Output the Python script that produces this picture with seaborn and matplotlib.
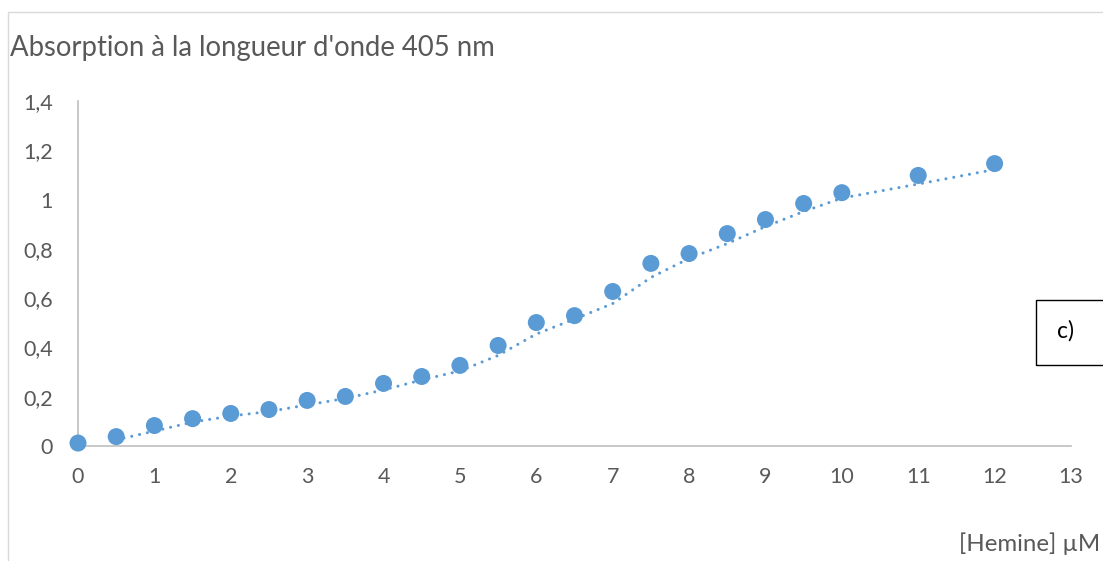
import numpy as np
import pandas as pd
import matplotlib
matplotlib.use('Agg')
import matplotlib.pyplot as plt
from matplotlib.ticker import FuncFormatter, MultipleLocator
from matplotlib.lines import Line2D
from matplotlib.patches import Rectangle
import seaborn as sns

# Données
hemine = [0, 0.5, 1, 1.5, 2, 2.5, 3, 3.5, 4, 4.5, 5, 5.5, 6, 6.5, 7, 7.5,
          8, 8.5, 9, 9.5, 10, 11, 12]
absorption = [0.012, 0.038, 0.083, 0.111, 0.132, 0.148, 0.185, 0.201, 0.254,
              0.282, 0.327, 0.408, 0.501, 0.529, 0.627, 0.741, 0.781, 0.862,
              0.919, 0.984, 1.028, 1.098, 1.146]

df = pd.DataFrame({'hemine': hemine, 'absorption': absorption})
# Courbe de tendance : moyenne mobile sur 2 périodes (style Excel)
df['moy'] = df['absorption'].rolling(2).mean()

sns.set_style('white')
plt.rcParams['font.family'] = ['Lato', 'DejaVu Sans']

bleu = '#5B9BD5'
gris_txt = '#595959'
gris_axe = '#BFBFBF'

fig = plt.figure(figsize=(11.03, 5.61), dpi=100)
ax = fig.add_axes([78 / 1103, 1 - 446 / 561, (1071 - 78) / 1103, (446 - 101) / 561])

sns.lineplot(data=df.dropna(), x='hemine', y='moy', ax=ax, color=bleu,
             linewidth=2.2, linestyle=(0, (0.01, 2.6)), dash_capstyle='round')
sns.scatterplot(data=df, x='hemine', y='absorption', ax=ax, color=bleu,
                s=150, edgecolor='none', zorder=3, clip_on=False)

ax.set_xlim(0, 13)
ax.set_ylim(0, 1.4)
ax.xaxis.set_major_locator(MultipleLocator(1))
ax.yaxis.set_major_locator(MultipleLocator(0.2))
ax.yaxis.set_major_formatter(FuncFormatter(lambda v, p: f'{v:g}'.replace('.', ',')))
ax.tick_params(axis='both', length=0, labelsize=15.5, colors=gris_txt)
ax.tick_params(axis='x', pad=15)
ax.tick_params(axis='y', pad=18)
ax.set_xlabel('')
ax.set_ylabel('')
for s in ['top', 'right']:
    ax.spines[s].set_visible(False)
for s in ['left', 'bottom']:
    ax.spines[s].set_color(gris_axe)
    ax.spines[s].set_linewidth(1.2)

# Titre et étiquette d'axe
fig.text(10 / 1103, 1 - 48 / 561, "Absorption à la longueur d'onde 405 nm",
         fontsize=19.8, color=gris_txt, ha='left', va='center')
fig.text(1100 / 1103, 1 - 544 / 561, '[Hemine] µM', fontsize=17.3,
         color=gris_txt, ha='right', va='center')

# Cadre du graphique
fig.add_artist(Line2D([8 / 1103, 8 / 1103], [0, 1 - 12 / 561], color='#D9D9D9', lw=1))
fig.add_artist(Line2D([8 / 1103, 1], [1 - 12 / 561, 1 - 12 / 561], color='#D9D9D9', lw=1))

# Encadré "c)"
fig.add_artist(Rectangle((1036 / 1103, 1 - 365 / 561), 80 / 1103, 65 / 561,
                         transform=fig.transFigure, fill=False,
                         edgecolor='black', lw=1))
fig.text(1066 / 1103, 1 - 331 / 561, 'c)', fontsize=16.5, color='black',
         ha='center', va='center')

fig.savefig('out.png', dpi=100)
